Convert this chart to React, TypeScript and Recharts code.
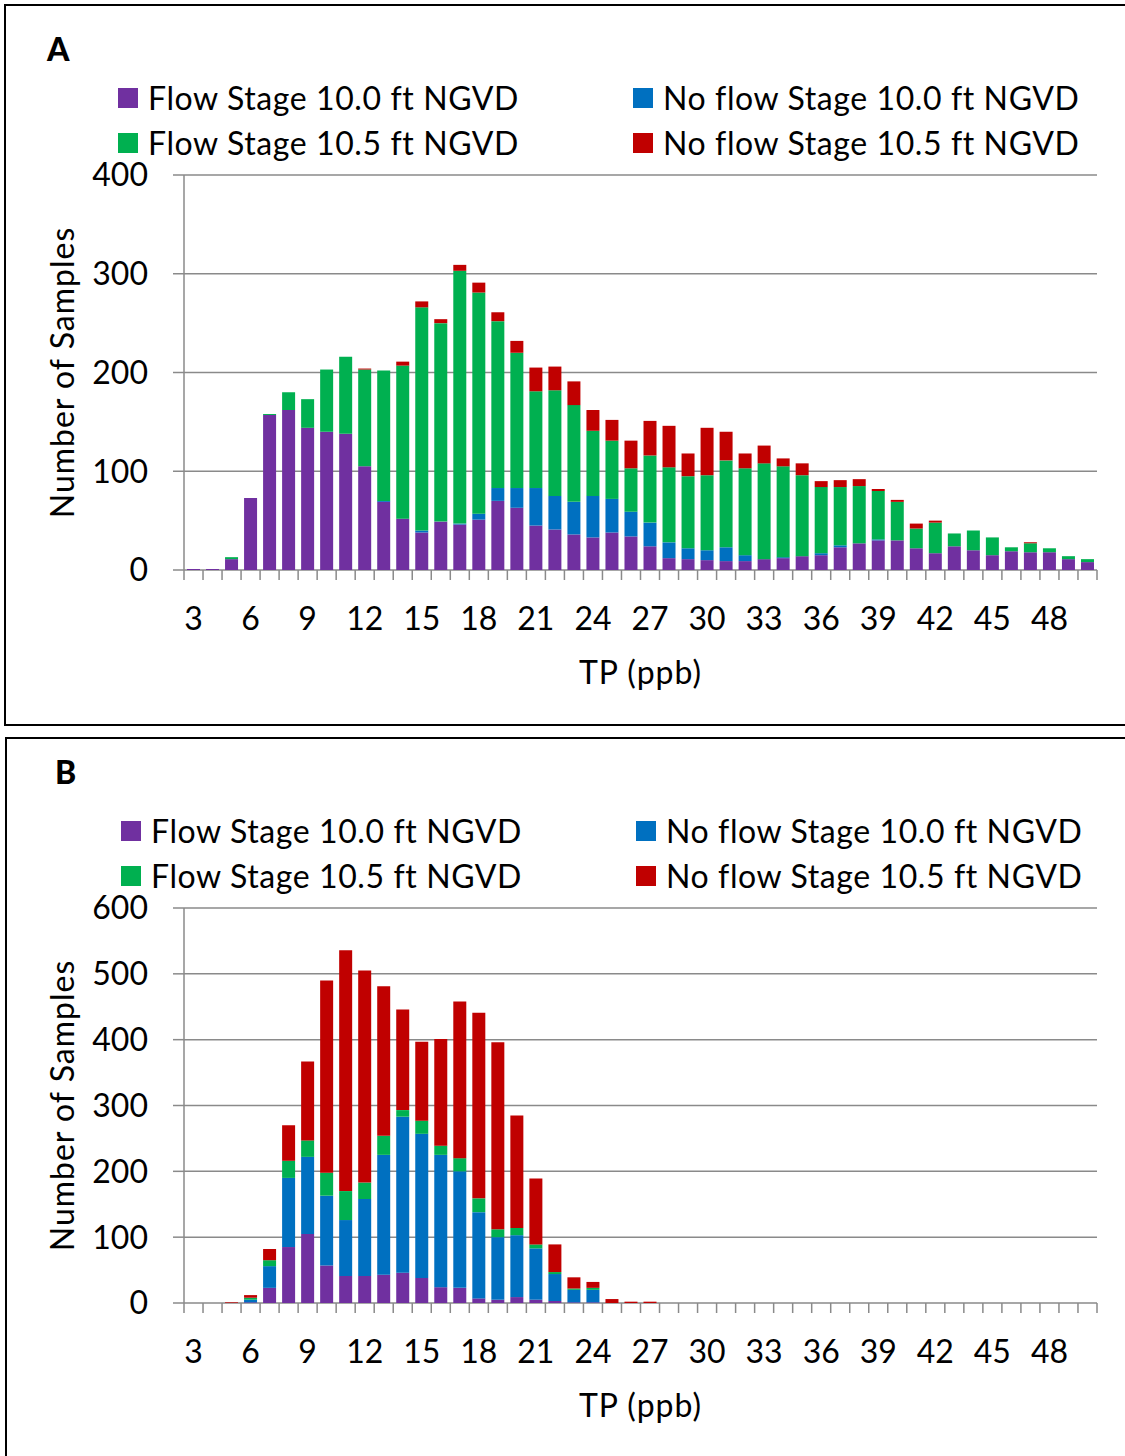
import React from 'react';
import { BarChart, Bar, XAxis, YAxis, CartesianGrid, Legend } from 'recharts';

// TP (ppb) categories
const categories = [3, 4, 5, 6, 7, 8, 9, 10, 11, 12, 13, 14, 15, 16, 17, 18, 19, 20, 21, 22, 23, 24, 25, 26, 27, 28, 29, 30, 31, 32, 33, 34, 35, 36, 37, 38, 39, 40, 41, 42, 43, 44, 45, 46, 47, 48, 49, 50];
const tickLabels = [3, 6, 9, 12, 15, 18, 21, 24, 27, 30, 33, 36, 39, 42, 45, 48];

const seriesNames = [
  'Flow Stage 10.0 ft NGVD',
  'No flow Stage 10.0 ft NGVD',
  'Flow Stage 10.5 ft NGVD',
  'No flow Stage 10.5 ft NGVD',
];

// Panel A
const aFlow100 = [1, 1, 11, 73, 157, 162, 144, 140, 138, 105, 69, 52, 38, 49, 46, 51, 70, 63, 45, 41, 36, 33, 38, 34, 24, 12, 11, 10, 9, 9, 11, 12, 14, 15, 23, 27, 30, 30, 22, 17, 24, 20, 15, 19, 18, 18, 11, 8];
const aNoFlow100 = [0, 0, 0, 0, 0, 0, 0, 0, 0, 0, 1, 0, 2, 0, 1, 6, 13, 20, 38, 34, 33, 42, 34, 25, 24, 16, 11, 10, 14, 6, 0, 1, 0, 2, 2, 0, 1, 0, 0, 0, 0, 0, 0, 0, 0, 0, 0, 0];
const aFlow105 = [0, 0, 2, 0, 1, 18, 29, 63, 78, 98, 132, 155, 226, 201, 256, 224, 169, 137, 98, 107, 98, 66, 59, 44, 68, 76, 73, 76, 88, 88, 97, 92, 82, 67, 59, 58, 49, 39, 20, 31, 13, 20, 18, 4, 9, 4, 3, 3];
const aNoFlow105 = [0, 0, 0, 0, 0, 0, 0, 0, 0, 1, 0, 4, 6, 4, 6, 10, 9, 12, 24, 24, 24, 21, 21, 28, 35, 42, 23, 48, 29, 15, 18, 8, 12, 6, 7, 7, 2, 2, 5, 2, 0, 0, 0, 0, 1, 0, 0, 0];

// Panel B
const bFlow100 = [0, 0, 0, 1, 23, 85, 105, 57, 41, 41, 43, 46, 38, 24, 23, 7, 5, 9, 5, 3, 1, 1, 0, 0, 0, 0, 0, 0, 0, 0, 0, 0, 0, 0, 0, 0, 0, 0, 0, 0, 0, 0, 0, 0, 0, 0, 0, 0];
const bNoFlow100 = [0, 0, 0, 4, 33, 105, 117, 106, 85, 117, 182, 237, 219, 201, 177, 131, 95, 94, 78, 41, 19, 19, 0, 0, 0, 0, 0, 0, 0, 0, 0, 0, 0, 0, 0, 0, 0, 0, 0, 0, 0, 0, 0, 0, 0, 0, 0, 0];
const bFlow105 = [0, 0, 0, 3, 9, 26, 25, 35, 44, 25, 29, 10, 20, 14, 20, 21, 12, 11, 6, 3, 2, 3, 0, 0, 0, 0, 0, 0, 0, 0, 0, 0, 0, 0, 0, 0, 0, 0, 0, 0, 0, 0, 0, 0, 0, 0, 0, 0];
const bNoFlow105 = [0, 0, 1, 4, 17, 54, 120, 292, 366, 322, 227, 153, 120, 162, 238, 282, 284, 171, 100, 42, 17, 9, 6, 2, 2, 0, 0, 0, 0, 0, 0, 0, 0, 0, 0, 0, 0, 0, 0, 0, 0, 0, 0, 0, 0, 0, 0, 0];

const yTicksA = [0, 100, 200, 300, 400];
const yTicksB = [0, 100, 200, 300, 400, 500, 600];

const COLORS = ['#7030A0', '#0070C0', '#00B050', '#C00000'];
const GRID = '#8a8a8a';
const FONT = 'Lato, "Open Sans", sans-serif';

const boundaryTicks = [categories[0] - 0.5, ...categories.map((c) => c + 0.5)];
const xDomain: [number, number] = [categories[0] - 0.5, categories[categories.length - 1] + 0.5];

function buildRows(p: number[], b: number[], g: number[], r: number[]) {
  return categories.map((tp, i) => ({ tp, p: p[i], b: b[i], g: g[i], r: r[i] }));
}

const dataA = buildRows(aFlow100, aNoFlow100, aFlow105, aNoFlow105);
const dataB = buildRows(bFlow100, bNoFlow100, bFlow105, bNoFlow105);

const LegendContent = (props: any) => {
  const payload = [...(props.payload || [])].sort(
    (a: any, b: any) => seriesNames.indexOf(a.value) - seriesNames.indexOf(b.value)
  );
  return (
    <div
      style={{
        display: 'grid',
        gridTemplateColumns: '515px 480px',
        fontFamily: FONT,
        fontSize: 32,
        letterSpacing: 0.6,
        color: '#000',
      }}
    >
      {payload.map((item: any) => (
        <div key={item.value} style={{ display: 'flex', alignItems: 'center', height: 45, whiteSpace: 'nowrap' }}>
          <span style={{ width: 20, height: 20, background: item.color, marginRight: 10, flex: 'none' }} />
          <span>{item.value}</span>
        </div>
      ))}
    </div>
  );
};

function Panel({ data, yMax, yTicks, top, legendLeft }: any) {
  const tickStyle = { fontSize: 32, fill: '#000', fontFamily: FONT };
  return (
    <div style={{ position: 'absolute', left: 0, top, width: 1125, height: 725, fontFamily: FONT }}>
      <BarChart
        width={1125}
        height={725}
        data={data}
        margin={{ top: 175, right: 28, bottom: 54, left: 58 }}
      >
        <CartesianGrid xAxisId="x2" vertical={false} stroke={GRID} strokeWidth={1.5} />
        <XAxis
          xAxisId="x2"
          type="number"
          dataKey="tp"
          domain={xDomain}
          ticks={tickLabels}
          interval={0}
          tickLine={false}
          axisLine={false}
          tickSize={0}
          tickMargin={36}
          height={100}
          tick={tickStyle}
          allowDataOverflow
          label={{
            value: 'TP (ppb)',
            position: 'insideTop',
            offset: 90,
            style: { fontSize: 32, fill: '#000', fontFamily: FONT, letterSpacing: 1 },
          }}
        />
        <XAxis
          xAxisId="x1"
          type="number"
          dataKey="tp"
          domain={xDomain}
          ticks={boundaryTicks}
          interval={0}
          tick={{ fontSize: 1, fill: 'none' }}
          tickFormatter={() => ''}
          tickSize={10}
          tickLine={{ stroke: GRID, strokeWidth: 1.5 }}
          axisLine={false}
          height={1}
          allowDataOverflow
        />
        <YAxis
          type="number"
          domain={[0, yMax]}
          ticks={yTicks}
          interval={0}
          width={126}
          tickSize={11}
          tickMargin={25}
          tickLine={{ stroke: GRID, strokeWidth: 1.5 }}
          axisLine={{ stroke: GRID, strokeWidth: 1.5 }}
          tick={tickStyle}
          label={{
            value: 'Number of Samples',
            angle: -90,
            position: 'insideLeft',
            offset: 5,
            style: { fontSize: 32, fill: '#000', fontFamily: FONT, textAnchor: 'middle', letterSpacing: 1 },
          }}
        />
        <Legend
          layout="vertical"
          align="center"
          verticalAlign="middle"
          wrapperStyle={{ top: 75, left: legendLeft }}
          content={<LegendContent />}
        />
        <Bar xAxisId="x2" dataKey="p" name={seriesNames[0]} stackId="s" fill={COLORS[0]} barSize={13} isAnimationActive={false} />
        <Bar xAxisId="x2" dataKey="b" name={seriesNames[1]} stackId="s" fill={COLORS[1]} barSize={13} isAnimationActive={false} />
        <Bar xAxisId="x2" dataKey="g" name={seriesNames[2]} stackId="s" fill={COLORS[2]} barSize={13} isAnimationActive={false} />
        <Bar xAxisId="x2" dataKey="r" name={seriesNames[3]} stackId="s" fill={COLORS[3]} barSize={13} isAnimationActive={false} />
      </BarChart>
    </div>
  );
}

export default function App() {
  return (
    <div style={{ position: 'absolute', left: 0, top: 0, width: 1125, height: 1456, overflow: 'hidden', background: '#fff' }}>
      <div style={{ position: 'absolute', left: 4, top: 4, width: 1200, height: 722, border: '2px solid #000', boxSizing: 'border-box' }} />
      <div style={{ position: 'absolute', left: 5, top: 737, width: 1200, height: 800, border: '2px solid #000', boxSizing: 'border-box' }} />
      <Panel data={dataA} yMax={400} yTicks={yTicksA} top={0} legendLeft={118} />
      <Panel data={dataB} yMax={600} yTicks={yTicksB} top={733} legendLeft={121} />
      <div style={{ position: 'absolute', left: 47, top: 33, fontFamily: FONT, fontWeight: 900, fontSize: 32, lineHeight: 1 }}>A</div>
      <div style={{ position: 'absolute', left: 55, top: 756, fontFamily: FONT, fontWeight: 900, fontSize: 32, lineHeight: 1 }}>B</div>
    </div>
  );
}
